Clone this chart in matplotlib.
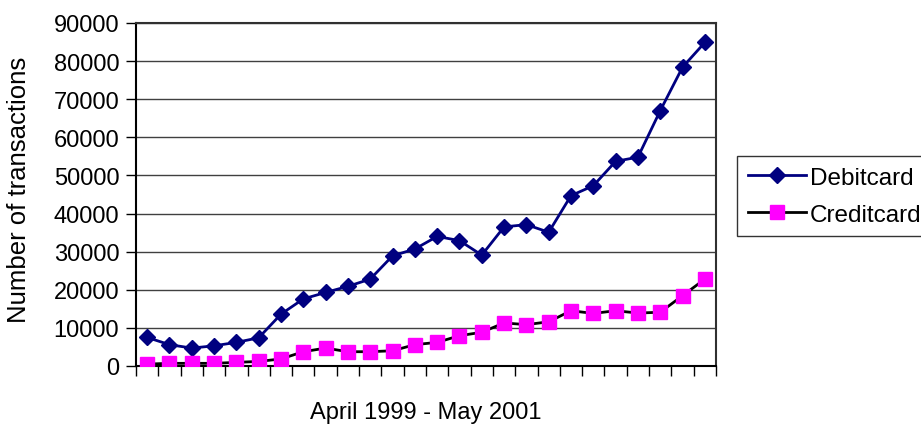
import matplotlib
matplotlib.use("Agg")
import matplotlib.pyplot as plt
import numpy as np

plt.rcParams['font.family'] = ['Liberation Sans', 'DejaVu Sans']

months = list(range(26))  # April 1999 - May 2001 (monthly)
debitcard = [7500, 5600, 4700, 5300, 6200, 7400, 13600, 17600, 19300, 20900,
             22800, 28900, 30700, 34000, 32900, 29100, 36500, 37100, 35100,
             44700, 47300, 53700, 54800, 67000, 78400, 84900]
creditcard = [500, 700, 700, 700, 950, 1200, 1850, 3750, 4700, 3750,
              3750, 4000, 5600, 6200, 7950, 8850, 11300, 10850, 11600,
              14500, 13800, 14500, 13900, 14100, 18450, 22800]
yticks = list(range(0, 90001, 10000))

fig = plt.figure(figsize=(9.21, 4.27), dpi=100)
ax = fig.add_axes([136/921, 1-367/427, 580/921, 343/427])

x = np.arange(len(months)) + 0.5
ax.plot(x, debitcard, color='#000080', lw=2, marker='D', ms=8.5,
        markeredgecolor='#000080', markerfacecolor='#000080', label='Debitcard', zorder=3)
ax.plot(x, creditcard, color='black', lw=2, marker='s', ms=10,
        markeredgecolor='#FF00FF', markerfacecolor='#FF00FF', label='Creditcard', zorder=3)

ax.set_xlim(0, len(months))
ax.set_ylim(0, 90000)
ax.set_yticks(yticks)
ax.set_yticklabels([str(v) for v in yticks], fontsize=17)
ax.set_xticks(np.arange(len(months) + 1))
ax.set_xticklabels([])
ax.tick_params(axis='both', direction='out', length=7, width=1, color='black', pad=5)
ax.yaxis.grid(True, color='#404040', lw=1)
ax.set_axisbelow(True)
for s in ['top', 'right']:
    ax.spines[s].set_color('#303030')
    ax.spines[s].set_linewidth(1.5)
for s in ['left', 'bottom']:
    ax.spines[s].set_color('black')
    ax.spines[s].set_linewidth(1.5)

fig.text(19/921, 1-190/427, 'Number of transactions', fontsize=18.5, rotation=90,
         ha='center', va='center')
fig.text(426/921, 1-413/427, 'April 1999 - May 2001', fontsize=17, ha='center', va='center')

leg = fig.legend(loc='upper left', bbox_to_anchor=(737/921, 1-157/427), fontsize=17.5,
                 frameon=True, fancybox=False, edgecolor='black', handlelength=2.4,
                 borderpad=0.45, labelspacing=0.6, handletextpad=0.15, borderaxespad=0)
leg.get_frame().set_linewidth(1)

fig.savefig('out.png', dpi=100)
